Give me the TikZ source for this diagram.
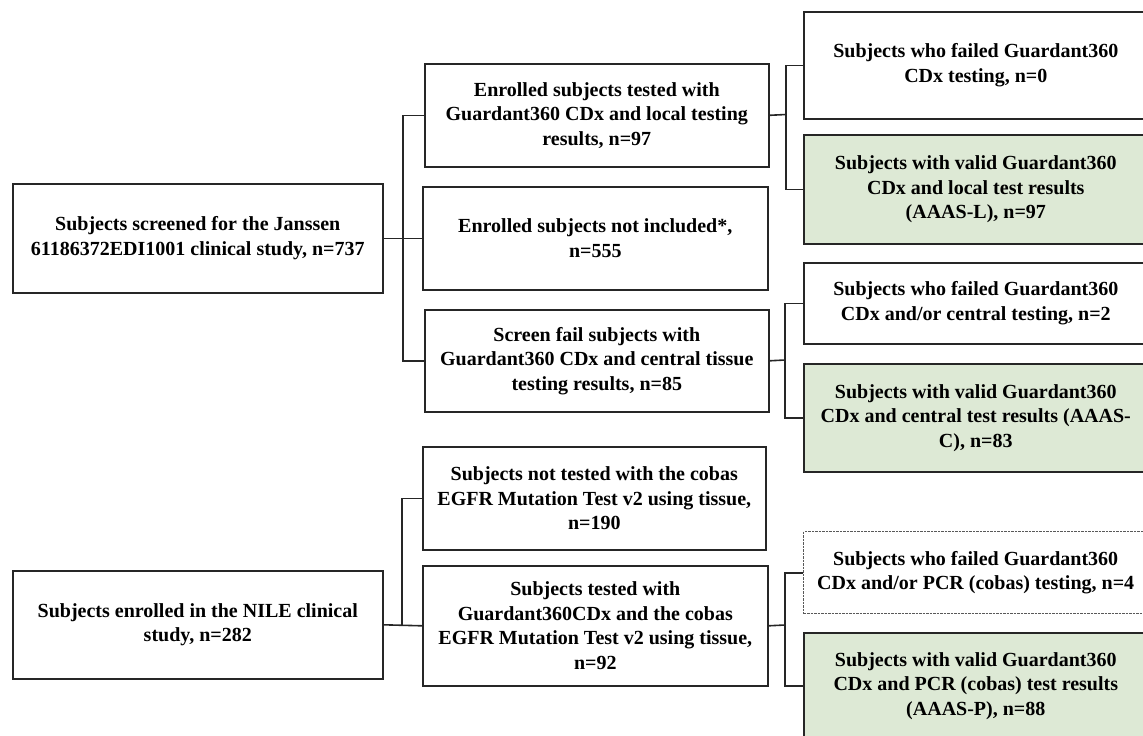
\documentclass[tikz,border=0pt]{standalone}
\usepackage{fontspec}
\setmainfont{Liberation Serif}
\definecolor{boxgreen}{HTML}{DDE9D5}
\definecolor{edge}{HTML}{262626}
\tikzset{
  x=1pt, y=-1pt,
  box/.style={draw=edge, line width=1.6pt, fill=white, align=center, inner sep=0pt,
    font=\bfseries\fontsize{20}{24.5}\selectfont, anchor=north west},
  greenbox/.style={box, fill=boxgreen},
  dashbox/.style={box, draw=black!65, line width=1.4pt, dash pattern=on 2.5pt off 1pt},
  link/.style={draw=edge, line width=1.6pt}
}
\begin{document}
\begin{tikzpicture}
\useasboundingbox (0,0) rectangle (1143,736);
\clip (0,0) rectangle (1143,736);
% left column
\node[box, minimum width=370, minimum height=109] (L1) at (12,183)
  {Subjects screened for the Janssen\\61186372EDI1001 clinical study, n=737};
\node[box, minimum width=370, minimum height=108] (L2) at (12,570)
  {Subjects enrolled in the NILE clinical\\study, n=282};
% middle column
\node[box, minimum width=344, minimum height=103] (A) at (424,63)
  {Enrolled subjects tested with\\Guardant360 CDx and local testing\\results, n=97};
\node[box, minimum width=345, minimum height=103] (B) at (422,186)
  {Enrolled subjects not included*,\\n=555};
\node[box, minimum width=344, minimum height=102] (C) at (424,309)
  {Screen fail subjects with\\Guardant360 CDx and central tissue\\testing results, n=85};
\node[box, minimum width=343, minimum height=103] (D) at (422,446)
  {Subjects not tested with the cobas\\EGFR Mutation Test v2 using tissue,\\n=190};
\node[box, minimum width=345, minimum height=120] (E) at (422,565)
  {Subjects tested with\\Guardant360CDx and the cobas\\EGFR Mutation Test v2 using tissue,\\n=92};
% right column
\node[box, minimum width=344, minimum height=107] (R1) at (803,11)
  {Subjects who failed Guardant360\\CDx testing, n=0};
\node[greenbox, minimum width=344, minimum height=109] (R2) at (803,134)
  {Subjects with valid Guardant360\\CDx and local test results\\(AAAS-L), n=97};
\node[box, minimum width=344, minimum height=81] (R3) at (803,262)
  {Subjects who failed Guardant360\\CDx and/or central testing, n=2};
\node[greenbox, minimum width=344, minimum height=108] (R4) at (803,363)
  {Subjects with valid Guardant360\\CDx and central test results (AAAS-\\C), n=83};
\node[dashbox, minimum width=344, minimum height=82] (R5) at (803,531)
  {Subjects who failed Guardant360\\CDx and/or PCR (cobas) testing, n=4};
\node[greenbox, minimum width=344, minimum height=106] (R6) at (803,632)
  {Subjects with valid Guardant360\\CDx and PCR (cobas) test results\\(AAAS-P), n=88};
% junctions
\coordinate (j1) at (403,237.5);
\coordinate (j2) at (786,114.5);
\coordinate (j3) at (785,360);
\coordinate (j4) at (402,625);
\coordinate (j5) at (785,625);
% connectors
\draw[link] (L1.east) -- (B.west);
\draw[link] (A.west) -| (j1) |- (C.west);
\draw[link] (A.east) -- (j2);
\draw[link] (R1.west) -| (j2) |- (R2.west);
\draw[link] (C.east) -- (j3);
\draw[link] (R3.west) -| (j3) |- (R4.west);
\draw[link] (L2.east) -- (E.west);
\draw[link] (D.west) -| (j4);
\draw[link] (E.east) -- (j5);
\draw[link] (R5.west) -| (j5) |- (R6.west);
\end{tikzpicture}
\end{document}
